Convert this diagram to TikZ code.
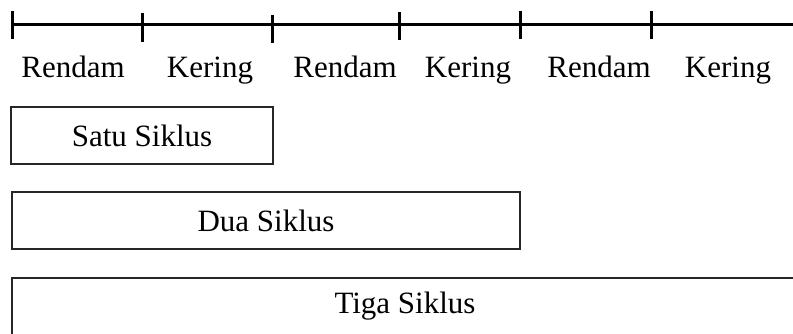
\documentclass[tikz,border=0pt]{standalone}
\usepackage{fontspec}
\setmainfont{Liberation Serif}
\begin{document}
\begin{tikzpicture}[x=1pt,y=-1pt,
  axis/.style={line width=3pt,black},
  tickmark/.style={line width=3pt,black},
  lbl/.style={anchor=base,inner sep=0pt,font=\fontsize{31}{36}\selectfont},
  cyclebox/.style={draw=black!85,line width=1.4pt,rectangle,inner sep=0pt,font=\fontsize{31}{36}\selectfont}]
\useasboundingbox (0,0) rectangle (793,333);
\clip (0,0) rectangle (793,333);
% timeline
\coordinate (s) at (12,24);
\coordinate (e) at (795,24);
\draw[axis] (s) -- (e);
\foreach \x/\a/\b [count=\i] in {12/11/39,142/13/42,272/15/43,399/12/40,520/11/39,651/11/39}{
  \coordinate (t\i a) at (\x,\a);
  \coordinate (t\i b) at (\x,\b);
  \draw[tickmark] (t\i a) -- (t\i b);
}
% labels
\node[lbl] (l1) at (73,77) {Rendam};
\node[lbl] (l2) at (210,77) {Kering};
\node[lbl] (l3) at (345,77) {Rendam};
\node[lbl] (l4) at (468,77) {Kering};
\node[lbl] (l5) at (599,77) {Rendam};
\node[lbl] (l6) at (728,77) {Kering};
% boxes
\node[cyclebox,minimum width=262pt,minimum height=57pt] (b1) at (142,135.5) {Satu Siklus};
\node[cyclebox,minimum width=508pt,minimum height=57pt] (b2) at (266,220.5) {Dua Siklus};
\node[cyclebox,minimum width=786pt,minimum height=57pt] (b3) at (405,306.5) {Tiga Siklus};
\end{tikzpicture}
\end{document}
